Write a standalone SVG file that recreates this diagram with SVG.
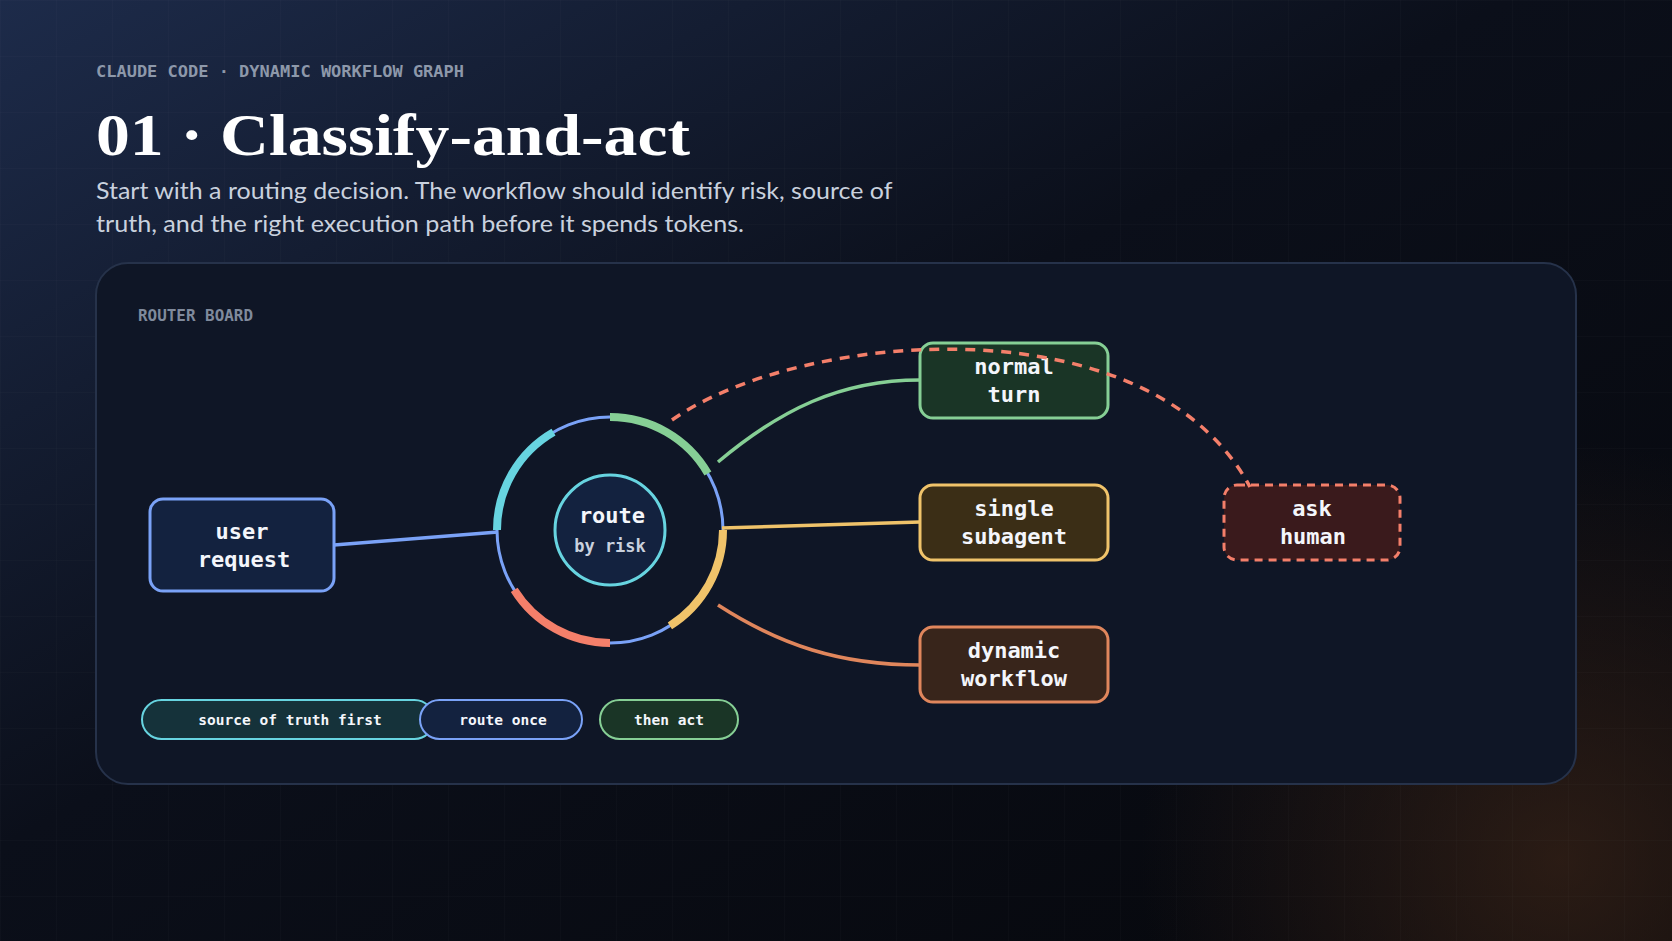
<svg xmlns="http://www.w3.org/2000/svg" width="1672" height="941" viewBox="0 0 1672 941">
<defs>
<linearGradient id="bg" x1="0" y1="0" x2="1" y2="1">
<stop offset="0" stop-color="#1d2b4a"/><stop offset="0.45" stop-color="#0b0f1a"/><stop offset="1" stop-color="#06070b"/>
</linearGradient>
<radialGradient id="warm" cx="1560" cy="860" r="420" gradientUnits="userSpaceOnUse">
<stop offset="0" stop-color="#3a2418" stop-opacity="0.7"/><stop offset="1" stop-color="#3a2418" stop-opacity="0"/>
</radialGradient>
<pattern id="grid" width="56" height="56" patternUnits="userSpaceOnUse">
<path d="M56 0H0V56" fill="none" stroke="#ffffff" stroke-opacity="0.03"/>
</pattern>
<style>
.mono{font-family:"DejaVu Sans Mono","Liberation Mono",monospace;font-weight:bold}
.node{stroke-width:3}
.nt{fill:#f4f6fb;font-size:22px;text-anchor:middle}
.pt{fill:#f4f6fb;font-size:14.5px;text-anchor:middle}
.arc{fill:none;stroke-width:8}
</style>
</defs>
<rect width="1672" height="941" fill="url(#bg)"/>
<rect width="1672" height="941" fill="url(#warm)"/>
<rect width="1672" height="941" fill="url(#grid)"/>
<text x="96" y="77" class="mono" font-size="16" fill="#8d98aa" textLength="368" lengthAdjust="spacingAndGlyphs">CLAUDE CODE · DYNAMIC WORKFLOW GRAPH</text>
<text x="96" y="155" font-family="Georgia,'Liberation Serif',serif" font-weight="bold" font-size="60" fill="#ffffff" textLength="594" lengthAdjust="spacingAndGlyphs">01 · Classify-and-act</text>
<text font-family="Lato,'Noto Sans',sans-serif" font-size="23.5" fill="#c9d1de">
<tspan x="96" y="199" textLength="796" lengthAdjust="spacingAndGlyphs">Start with a routing decision. The workflow should identify risk, source of</tspan>
<tspan x="96" y="232" textLength="648" lengthAdjust="spacingAndGlyphs">truth, and the right execution path before it spends tokens.</tspan>
</text>
<rect x="96" y="263" width="1480" height="521" rx="32" fill="#0f1626" stroke="#26324a" stroke-width="2"/>
<text x="138" y="321" class="mono" font-size="15" fill="#7f8a9c" textLength="115" lengthAdjust="spacingAndGlyphs">ROUTER BOARD</text>

<g id="router">
<circle cx="610" cy="530" r="113" fill="none" stroke="#7aa2f7" stroke-width="3"/>
<path class="arc" d="M610,417 A113,113 0 0 1 707.9,473.5" stroke="#86cf95"/>
<path class="arc" d="M553.5,432.1 A113,113 0 0 0 497,530" stroke="#67d4e0"/>
<path class="arc" d="M610,643 A113,113 0 0 1 514.2,589.9" stroke="#f47f6a"/>
<path class="arc" d="M723,530 A113,113 0 0 1 669.9,625.8" stroke="#f0c36a"/>
<circle cx="610" cy="530" r="55" fill="#13223f" stroke="#67d4e0" stroke-width="3"/>
<text x="612" y="523" class="mono nt">route</text>
<text x="610" y="552" class="mono" font-size="17" fill="#c9d1de" text-anchor="middle">by risk</text>
</g>

<g id="user-request">
<rect x="150" y="499" width="184" height="92" rx="13" fill="#13223f" stroke="#7aa2f7" class="node"/>
<text class="mono nt" x="242" y="539">user</text><text class="mono nt" x="244" y="567">request</text>
</g>
<g id="normal-turn">
<rect x="920" y="343" width="188" height="75" rx="13" fill="#1a3526" stroke="#86cf95" class="node"/>
<text class="mono nt" x="1014" y="374">normal</text><text class="mono nt" x="1014" y="402">turn</text>
</g>
<g id="single-subagent">
<rect x="920" y="485" width="188" height="75" rx="13" fill="#3b2e16" stroke="#f0c36a" class="node"/>
<text class="mono nt" x="1014" y="516">single</text><text class="mono nt" x="1014" y="544">subagent</text>
</g>
<g id="dynamic-workflow">
<rect x="920" y="627" width="188" height="75" rx="13" fill="#38251b" stroke="#e0865c" class="node"/>
<text class="mono nt" x="1014" y="658">dynamic</text><text class="mono nt" x="1014" y="686">workflow</text>
</g>
<g id="ask-human">
<rect x="1224" y="485" width="176" height="75" rx="13" fill="#3a1a1c" stroke="#f47f6a" class="node" stroke-dasharray="8 6"/>
<text class="mono nt" x="1312" y="516">ask</text><text class="mono nt" x="1313" y="544">human</text>
</g>

<g id="pill-source">
<rect x="142" y="700" width="292" height="39" rx="19.5" fill="#15323a" stroke="#67d4e0" stroke-width="2"/>
<text class="mono pt" x="290" y="725">source of truth first</text>
</g>
<g id="pill-route">
<rect x="420" y="700" width="162" height="39" rx="19.5" fill="#13223f" stroke="#7aa2f7" stroke-width="2"/>
<text class="mono pt" x="503" y="725">route once</text>
</g>
<g id="pill-act">
<rect x="600" y="700" width="138" height="39" rx="19.5" fill="#1a3526" stroke="#86cf95" stroke-width="2"/>
<text class="mono pt" x="669" y="725">then act</text>
</g>

<g id="connectors" fill="none" stroke-width="3.5">
<path d="M672,420 C800,330 1150,300 1250,487" stroke="#f47f6a" stroke-dasharray="10 8"/>
<path d="M334,545 L498,532" stroke="#7aa2f7"/>
<path d="M722,528 L920,522" stroke="#f0c36a"/>
<path d="M718,462 C780,410 840,380 920,380" stroke="#86cf95"/>
<path d="M718,605 C780,645 840,665 920,665" stroke="#e0865c"/>
</g>
</svg>
